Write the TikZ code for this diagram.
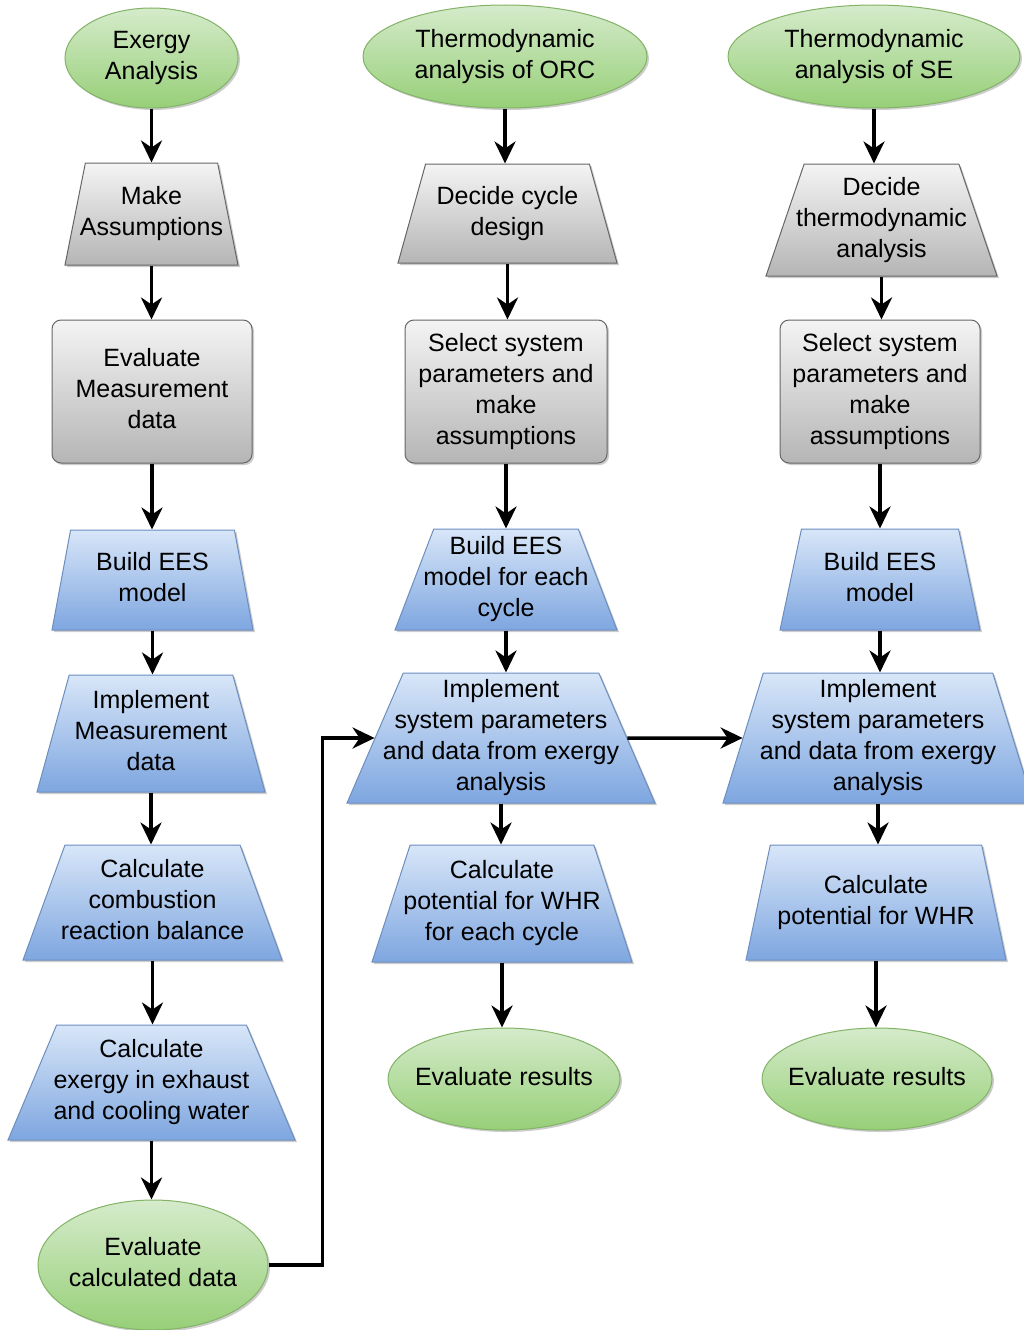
\documentclass[tikz,border=0pt]{standalone}
\usepackage{fontspec}
\setmainfont{Liberation Sans}
\usetikzlibrary{shapes.geometric,arrows.meta,shadows}
\definecolor{greenline}{HTML}{82B366}
\definecolor{greentop}{HTML}{D5EBCB}
\definecolor{greenbot}{HTML}{97CF78}
\definecolor{greyline}{HTML}{666666}
\definecolor{greytop}{HTML}{F4F4F4}
\definecolor{greybot}{HTML}{B5B5B5}
\definecolor{blueline}{HTML}{6C8EBF}
\definecolor{bluetop}{HTML}{D8E6F8}
\definecolor{bluebot}{HTML}{7EA6E0}
\newcommand{\boxtext}[1]{\makebox[0pt]{\begin{tabular}{@{}c@{}}#1\end{tabular}}}

\begin{document}
\begin{tikzpicture}[x=1pt,y=-1pt,font=\fontsize{25}{31}\selectfont]
\tikzstyle{base}=[inner sep=0pt,text=black,line width=1pt,drop shadow={shadow xshift=2pt,shadow yshift=-2pt,fill=black,opacity=0.2}]
\tikzstyle{start node}=[base,ellipse,draw=greenline,top color=greentop,bottom color=greenbot]
\tikzstyle{grey box}=[base,rectangle,rounded corners=9pt,draw=greyline,top color=greytop,bottom color=greybot,minimum height=143pt]
\tikzstyle{grey trap}=[base,trapezium,trapezium stretches body,draw=greyline,top color=greytop,bottom color=greybot]
\tikzstyle{blue trap}=[base,trapezium,trapezium stretches body,draw=blueline,top color=bluetop,bottom color=bluebot]
\tikzstyle{flow}=[line width=3.5pt,-{Stealth[length=22pt,width=21pt,inset=7pt]}]
\useasboundingbox (0,0) rectangle (1023,1330);

% exergy analysis
\node[start node,minimum width=173pt,minimum height=100pt] (startA) at (151.5,58) {\boxtext{Exergy\\Analysis}};
\node[grey trap,trapezium angle=71.8,minimum width=173pt,minimum height=102pt] (makeA) at (151.5,214) {\boxtext{Make\\Assumptions}};
\node[grey box,minimum width=200pt] (evalA) at (152,391.5) {\boxtext{Evaluate\\Measurement\\data}};
\node[blue trap,trapezium angle=73.3,minimum width=201pt,minimum height=100pt] (buildA) at (152.5,580) {\boxtext{Build EES\\model}};
\node[blue trap,trapezium angle=70.9,minimum width=228pt,minimum height=117pt] (implA) at (151,733.5) {\boxtext{Implement\\Measurement\\data}};
\node[blue trap,trapezium angle=65.7,minimum width=259pt,minimum height=115pt] (combA) at (152.5,902.5) {\boxtext{Calculate\\combustion\\reaction balance}};
\node[blue trap,trapezium angle=62.4,minimum width=287pt,minimum height=115pt] (exA) at (151.5,1082.5) {\boxtext{Calculate\\exergy in exhaust\\and cooling water}};
\node[start node,minimum width=230pt,minimum height=130pt] (endA) at (153,1265) {\boxtext{Evaluate\\calculated data}};

% ORC
\node[start node,minimum width=284pt,minimum height=103pt] (startB) at (505,56.5) {\boxtext{Thermodynamic\\analysis of ORC}};
\node[grey trap,trapezium angle=66,minimum width=219pt,minimum height=99pt] (decideB) at (507.5,213.5) {\boxtext{Decide cycle\\design}};
\node[grey box,minimum width=202pt] (selB) at (506,391.5) {\boxtext{Select system\\parameters and\\make\\assumptions}};
\node[blue trap,trapezium angle=67.4,minimum width=222pt,minimum height=101pt] (buildB) at (506,579.5) {\boxtext{Build EES\\model for each\\cycle}};
\node[blue trap,trapezium angle=65.6,minimum width=308pt,minimum height=130pt] (implB) at (501,738) {\boxtext{Implement\\system parameters\\and data from exergy\\analysis}};
\node[blue trap,trapezium angle=67.7,minimum width=260pt,minimum height=117pt] (calcB) at (502,903.5) {\boxtext{Calculate\\potential for WHR\\for each cycle}};
\node[start node,minimum width=232pt,minimum height=102pt] (endB) at (504,1079) {\boxtext{Evaluate results}};

% SE
\node[start node,minimum width=292pt,minimum height=103pt] (startC) at (874,56.5) {\boxtext{Thermodynamic\\analysis of SE}};
\node[grey trap,trapezium angle=67.7,minimum width=231pt,minimum height=112pt] (decideC) at (881.5,220) {\boxtext{Decide\\thermodynamic\\analysis}};
\node[grey box,minimum width=200pt] (selC) at (880,391.5) {\boxtext{Select system\\parameters and\\make\\assumptions}};
\node[blue trap,trapezium angle=70.9,minimum width=200pt,minimum height=101pt] (buildC) at (880,579.5) {\boxtext{Build EES\\model}};
\node[blue trap,trapezium angle=72,minimum width=310pt,minimum height=130pt] (implC) at (878,738) {\boxtext{Implement\\system parameters\\and data from exergy\\analysis}};
\node[blue trap,trapezium angle=68.6,minimum width=260pt,minimum height=115pt] (calcC) at (876,902.5) {\boxtext{Calculate\\potential for WHR}};
\node[start node,minimum width=230pt,minimum height=102pt] (endC) at (877,1079) {\boxtext{Evaluate results}};

% connectors
\foreach \a/\b in {startA/makeA,makeA/evalA,evalA/buildA,buildA/implA,implA/combA,combA/exA,exA/endA,
  startB/decideB,decideB/selB,selB/buildB,buildB/implB,implB/calcB,calcB/endB,
  startC/decideC,decideC/selC,selC/buildC,buildC/implC,implC/calcC,calcC/endC}
  \draw[flow] (\a.south) -- (\a.south |- \b.north);
\draw[flow] (endA.east) -- ++(54,0) |- (implB.west);
\draw[flow] (implB.east) -- (implC.west);
\end{tikzpicture}
\end{document}
